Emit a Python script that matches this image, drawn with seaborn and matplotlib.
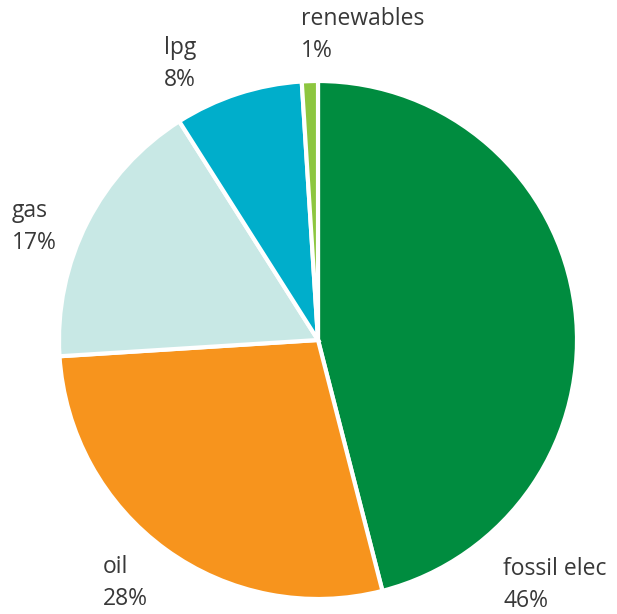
import matplotlib
matplotlib.use('Agg')
import matplotlib.pyplot as plt
import seaborn as sns

sns.set_style('white')
plt.rcParams['font.family'] = ['Open Sans', 'DejaVu Sans']

# slices clockwise from 12 o'clock
labels = ['fossil elec', 'oil', 'gas', 'lpg', 'renewables']
shares = [46, 28, 17, 8, 1]
colors = ['#008c3f', '#f7941d', '#c8e8e5', '#00aecb', '#8dc63f']

# label anchor (left x, centre y of first line) in pixels from top-left
label_pos = {
    'fossil elec': (503, 569),
    'oil': (103, 567),
    'gas': (12, 211),
    'lpg': (164, 48),
    'renewables': (301, 19),
}

W, H = 617, 614
fig = plt.figure(figsize=(W / 100, H / 100), dpi=100)
cx, cy, r = 318, 340, 259
ax = fig.add_axes([(cx - r) / W, (H - cy - r) / H, 2 * r / W, 2 * r / H])
ax.pie(shares, colors=colors, startangle=90, counterclock=False, radius=1,
       wedgeprops=dict(edgecolor='white', linewidth=3))
ax.set_xlim(-1, 1)
ax.set_ylim(-1, 1)
ax.set_aspect('equal')
ax.axis('off')

for name, val in zip(labels, shares):
    x, y = label_pos[name]
    fig.text(x / W, 1 - y / H, name, fontsize=16.5, color='#383838',
             ha='left', va='center', fontweight='medium')
    fig.text(x / W, 1 - (y + 32) / H, f'{val}%', fontsize=16.5, color='#383838',
             ha='left', va='center', fontweight='medium')

fig.savefig('out.png', dpi=100)
